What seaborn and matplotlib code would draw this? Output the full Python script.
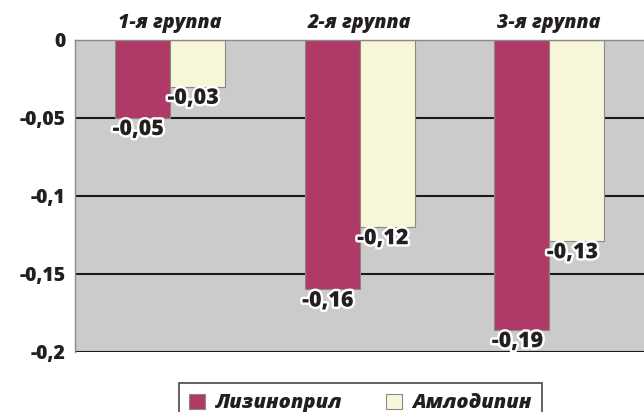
import numpy as np
import pandas as pd
import matplotlib.pyplot as plt
import matplotlib.patheffects as pe
from matplotlib.ticker import FuncFormatter
import seaborn as sns

groups = ['1-я группа', '2-я группа', '3-я группа']
drugs = ['Лизиноприл', 'Амлодипин']
lisinopril = [-0.05, -0.16, -0.186]
amlodipin = [-0.03, -0.12, -0.129]
value_labels = {
    'Лизиноприл': ['-0,05', '-0,16', '-0,19'],
    'Амлодипин': ['-0,03', '-0,12', '-0,13'],
}
colors = {'Лизиноприл': '#b03a67', 'Амлодипин': '#f8f6d8'}
yticks = [0, -0.05, -0.1, -0.15, -0.2]

df = pd.DataFrame({
    'group': groups * 2,
    'drug': [drugs[0]] * 3 + [drugs[1]] * 3,
    'value': lisinopril + amlodipin,
})

sns.set_style('white')
plt.rcParams['font.family'] = ['Open Sans', 'DejaVu Sans']
text_color = '#231f20'
heavy = 'extra bold'

fig = plt.figure(figsize=(6.44, 4.12), dpi=100)
ax = fig.add_axes([0.1165, 0.146, 0.8835, 0.757])
ax.set_facecolor('#cbcbcb')

sns.barplot(data=df, x='group', y='value', hue='drug', palette=colors,
            width=0.58, saturation=1, edgecolor='#8a8a80', linewidth=0.8,
            legend=False, ax=ax)

ax.set_ylim(-0.2, 0)
ax.set_yticks(yticks)
ax.yaxis.set_major_formatter(
    FuncFormatter(lambda v, p: ('%g' % v).replace('.', ',') if abs(v) > 1e-9 else '0'))
ax.set_axisbelow(True)
ax.yaxis.grid(True, color='#1a1a1a', linewidth=1.5)
for line, t in zip(ax.yaxis.get_gridlines(), ax.get_yticks()):
    if abs(t) < 1e-9:
        line.set_visible(False)

ax.xaxis.tick_top()
ax.tick_params(axis='x', length=0, pad=5)
ax.tick_params(axis='y', length=5, width=1, color='#555555', pad=2)
for lab in ax.get_xticklabels():
    lab.set_fontsize(14)
    lab.set_fontweight(heavy)
    lab.set_fontstyle('italic')
    lab.set_color(text_color)
for lab in ax.get_yticklabels():
    lab.set_fontsize(14)
    lab.set_fontweight(heavy)
    lab.set_color(text_color)
ax.set_xlabel('')
ax.set_ylabel('')

for s in ['right', 'bottom']:
    ax.spines[s].set_visible(False)
ax.spines['top'].set_color('#8a8a8a')
ax.spines['left'].set_color('#8a8a8a')
ax.spines['top'].set_linewidth(1)
ax.spines['left'].set_linewidth(1)

# data labels at bar ends
for cont, drug in zip(ax.containers, drugs):
    for bar, txt in zip(cont, value_labels[drug]):
        x = bar.get_x() + bar.get_width() / 2
        y = bar.get_y() + bar.get_height() if bar.get_height() < 0 else bar.get_y()
        t = ax.annotate(txt, (x, y), xytext=(-3, -8), textcoords='offset points',
                        ha='center', va='center', fontsize=15.5, fontweight=heavy,
                        color=text_color, zorder=5)
        t.set_path_effects([pe.withStroke(linewidth=3.5, foreground='white')])

handles = [plt.Rectangle((0, 0), 1, 1, facecolor=colors[d], edgecolor='#8a8a80',
                         linewidth=0.8) for d in drugs]
leg = fig.legend(handles, drugs, loc='upper center', bbox_to_anchor=(0.56, 0.094),
                 ncol=2, frameon=True, fancybox=False, handlelength=0.8,
                 handleheight=0.8, columnspacing=2.2, handletextpad=0.5,
                 borderpad=0.5,
                 prop={'size': 14.5, 'weight': heavy, 'style': 'italic'})
leg.get_frame().set_edgecolor('#1a1a1a')
leg.get_frame().set_linewidth(1.2)
for t in leg.get_texts():
    t.set_color(text_color)

plt.savefig('out.png', dpi=100)
